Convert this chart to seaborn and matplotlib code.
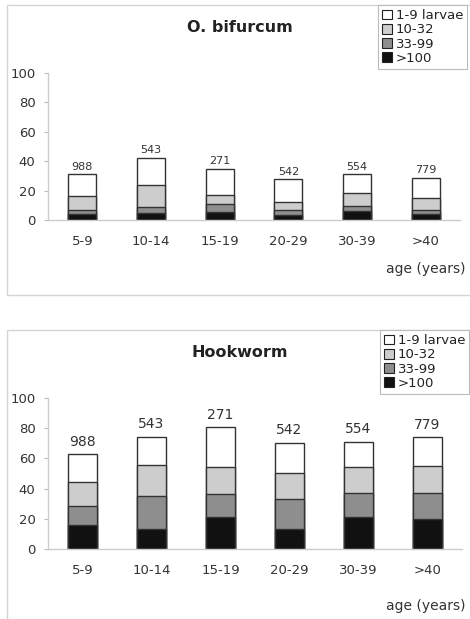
import matplotlib
matplotlib.use("Agg")
import matplotlib.pyplot as plt
import matplotlib.patches as mpatches
import numpy as np
import seaborn as sns

sns.set_style("white")
plt.rcParams['font.family'] = ['DejaVu Sans']

# data (percent of people in each intensity class)
ages = ['5-9', '10-14', '15-19', '20-29', '30-39', '>40']
n_sampled = ['988', '543', '271', '542', '554', '779']
classes = ['1-9 larvae', '10-32', '33-99', '>100']
colors = ['#ffffff', '#cdcdcd', '#8e8e8e', '#111111']

# O. bifurcum
obif_100 = [3.8, 4.5, 5.4, 3.4, 6.1, 3.8]
obif_33 = [3.0, 4.3, 5.5, 3.4, 3.4, 3.0]
obif_10 = [9.2, 15.0, 6.3, 5.6, 9.1, 7.9]
obif_1 = [15.0, 18.7, 17.4, 15.2, 12.4, 14.0]

# Hookworm
hook_100 = [15.6, 13.4, 20.9, 13.4, 20.9, 20.0]
hook_33 = [13.0, 21.8, 15.2, 19.6, 16.1, 17.0]
hook_10 = [16.1, 20.3, 17.9, 17.2, 17.0, 17.8]
hook_1 = [18.1, 18.7, 26.6, 20.1, 17.1, 19.2]

W, H = 470, 619
fig = plt.figure(figsize=(W / 100, H / 100), dpi=100)


def fx(px):
    return px / W


def fy(py):
    return 1 - py / H


def panel(ax, layers, title, title_y, ann_size, ann_off, legend_xy, age_y):
    # layers ordered bottom -> top (>100, 33-99, 10-32, 1-9)
    cum = np.cumsum(np.array(layers), axis=0)
    layer_colors = colors[::-1]
    # draw tallest first so each smaller stack sits on top
    for k in range(len(layers) - 1, -1, -1):
        sns.barplot(x=ages, y=cum[k], order=ages, color=layer_colors[k],
                    saturation=1, width=0.41, edgecolor='#333333',
                    linewidth=1.0, ax=ax)
    for i, lab in enumerate(n_sampled):
        ax.annotate(lab, (i, cum[-1][i]), xytext=(0, ann_off),
                    textcoords='offset points', ha='center', va='bottom',
                    fontsize=ann_size, color='#333333')
    ax.set_xlim(-0.5, 5.5)
    ax.set_ylim(0, 100)
    ax.set_yticks([0, 20, 40, 60, 80, 100])
    ax.set_xlabel('')
    ax.set_ylabel('')
    ax.set_xticks(np.arange(-0.5, 6, 1), minor=True)
    ax.tick_params(axis='x', which='major', length=0, pad=11,
                   labelsize=9.5, labelcolor='#333333')
    ax.tick_params(axis='x', which='minor', length=3, color='#bbbbbb',
                   direction='out')
    ax.tick_params(axis='y', length=3, color='#bbbbbb', pad=6,
                   labelsize=9.5, labelcolor='#333333', left=True)
    for s in ['top', 'right']:
        ax.spines[s].set_visible(False)
    for s in ['left', 'bottom']:
        ax.spines[s].set_color('#cccccc')
        ax.spines[s].set_linewidth(1.0)
    ax.grid(False)

    fig.text(fx(240), fy(title_y), title, ha='center', va='center',
             fontsize=11.5, fontweight='bold', color='#222222')
    handles = [mpatches.Patch(facecolor=c, edgecolor='#222222', linewidth=0.8)
               for c in colors]
    leg = fig.legend(handles, classes, loc='upper left',
                     bbox_to_anchor=legend_xy, fontsize=9.5,
                     handlelength=0.75, handleheight=0.75, handletextpad=0.3,
                     labelspacing=0.1, borderpad=0.3, borderaxespad=0,
                     fancybox=False, framealpha=1, edgecolor='#bbbbbb')
    leg.get_frame().set_linewidth(0.8)
    for t in leg.get_texts():
        t.set_color('#222222')
    fig.text(fx(466), fy(age_y), 'age (years)', ha='right', va='center',
             fontsize=10, color='#333333')


# panel frames
fig.patches.append(mpatches.Rectangle((fx(7), fy(295)), fx(470), fy(5) - fy(295),
                                      transform=fig.transFigure, fill=False,
                                      edgecolor='#d5d5d5', linewidth=1))
fig.patches.append(mpatches.Rectangle((fx(7), fy(625)), fx(470), fy(330) - fy(625),
                                      transform=fig.transFigure, fill=False,
                                      edgecolor='#d5d5d5', linewidth=1))

ax1 = fig.add_axes([fx(48), fy(220), fx(460 - 48), (220 - 73) / H])
panel(ax1, [obif_100, obif_33, obif_10, obif_1], 'O. bifurcum', 27, 8, 2,
      (fx(378), fy(5)), 269)

ax2 = fig.add_axes([fx(48), fy(549), fx(462 - 48), (549 - 398) / H])
panel(ax2, [hook_100, hook_33, hook_10, hook_1], 'Hookworm', 352, 10, 4,
      (fx(380), fy(330)), 606)

fig.savefig('out.png', dpi=100, facecolor='white')
